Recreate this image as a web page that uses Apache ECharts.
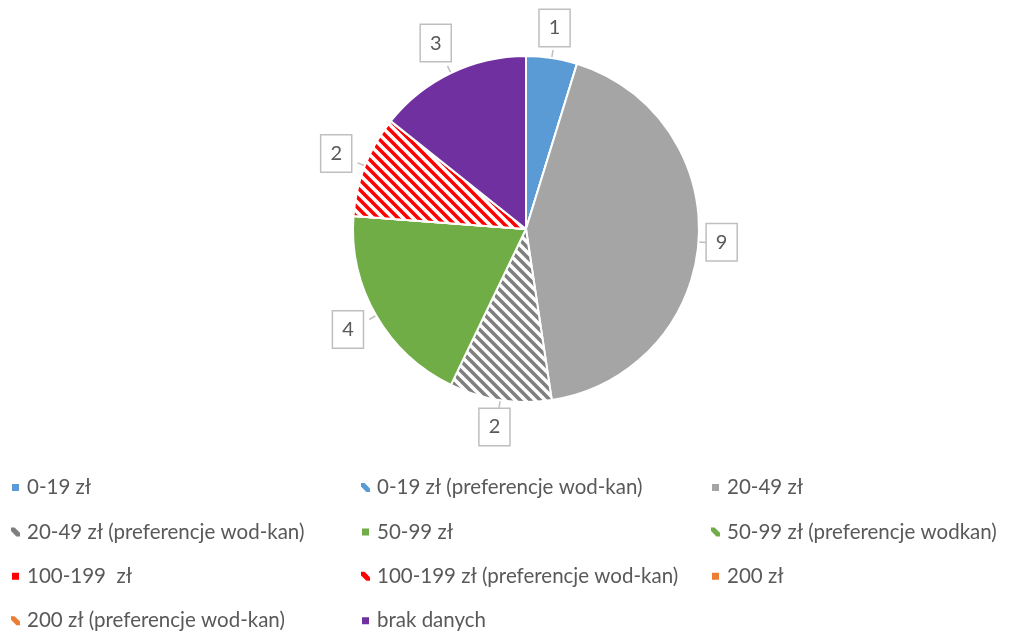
<!DOCTYPE html>
<html><head><meta charset="utf-8">
<script src="https://cdn.jsdelivr.net/npm/echarts@6/dist/echarts.min.js"></script>
<style>html,body{margin:0;padding:0;background:#fff}#c{width:1024px;height:632px}</style>
</head><body><div id="c"></div>
<script>
const categories = ['0-19 zł','0-19 zł (preferencje wod-kan)','20-49 zł','20-49 zł (preferencje wod-kan)','50-99 zł','50-99 zł (preferencje wodkan)','100-199  zł','100-199 zł (preferencje wod-kan)','200 zł','200 zł (preferencje wod-kan)','brak danych'];
const values = [1,0,9,2,4,0,0,2,0,0,3];
const hatched = [false,true,false,true,false,true,false,true,false,true,false];
const baseColors = ['#5b9bd5','#5b9bd5','#a5a5a5','#7f7f7f','#70ad47','#70ad47','#ff0000','#ff0000','#ed7d31','#ed7d31','#7030a0'];
const legendCols = [[0,3,6,9],[1,4,7,10],[2,5,8]];

function makePattern(color){
  const s = 10;
  const c = document.createElement('canvas');
  c.width = s; c.height = s;
  const g = c.getContext('2d');
  g.fillStyle = '#fff'; g.fillRect(0,0,s,s);
  g.strokeStyle = color; g.lineWidth = 3.6; g.lineCap = 'square';
  g.beginPath();
  g.moveTo(-s,-s); g.lineTo(2*s,2*s);
  g.moveTo(0,-s); g.lineTo(2*s,s);
  g.moveTo(-s,0); g.lineTo(s,2*s);
  g.stroke();
  return {image: c, repeat: 'repeat'};
}

const dashIcon = 'path://M0,0 L4,0 L10,6 L10,10 L6,10 L0,4 Z';
const txt = '#595959';
const font = 'Lato, Carlito, "Liberation Sans", sans-serif';

const data = categories.map((n,i)=>({
  name: n, value: values[i],
  itemStyle: {color: hatched[i] ? makePattern(baseColors[i]) : baseColors[i]},
  label: {show: values[i] > 0},
  labelLine: {show: values[i] > 0}
}));

const legends = legendCols.map((col,k)=>({
  orient: 'vertical',
  left: [10, 360, 710][k],
  top: 477,
  padding: 0,
  itemWidth: 9, itemHeight: 9,
  itemGap: 23.4,
  selectedMode: false,
  textStyle: {color: txt, fontSize: 20.5, fontFamily: font, lineHeight: 21, padding: [0,0,0,2]},
  data: col.map(i=>hatched[i]
    ? {name: categories[i], icon: dashIcon, itemStyle: {color: baseColors[i], borderWidth: 0, decal: 'none'}}
    : {name: categories[i], icon: 'rect', itemStyle: {color: baseColors[i]}})
}));

function placeLabel(params){
  const pts = params.labelLinePoints;
  if (!pts) return {};
  const p0 = pts[0], p1 = pts[1];
  let ux = p1[0]-p0[0], uy = p1[1]-p0[1];
  const n = Math.hypot(ux,uy) || 1; ux/=n; uy/=n;
  const w = params.labelRect.width, h = params.labelRect.height;
  const gap = 7;
  const t = gap + 0.5*(Math.abs(ux)*w + Math.abs(uy)*h);
  const cx = p0[0] + ux*t, cy = p0[1] + uy*t;
  return {
    x: cx - w/2, y: cy - h/2, align: 'left', verticalAlign: 'top',
    labelLinePoints: [[p0[0],p0[1]],[p0[0]+ux*(gap+1),p0[1]+uy*(gap+1)],[p0[0]+ux*(gap+1),p0[1]+uy*(gap+1)]]
  };
}

const chart = echarts.init(document.getElementById('c'));
chart.setOption({
  animation: false,
  backgroundColor: '#fff',
  legend: legends,
  series: [{
    type: 'pie',
    center: [526, 229],
    radius: 173,
    startAngle: 90,
    clockwise: true,
    avoidLabelOverlap: false,
    itemStyle: {borderColor: '#fff', borderWidth: 2},
    label: {
      position: 'outside',
      formatter: '{c}',
      color: txt, fontSize: 20, fontFamily: font,
      backgroundColor: '#fff', borderColor: '#bfbfbf', borderWidth: 1.5,
      padding: [8, 9, 8, 9]
    },
    labelLine: {length: 10, length2: 0, lineStyle: {color: '#bfbfbf', width: 1.5}},
    labelLayout: placeLabel,
    emphasis: {disabled: true},
    data: data
  }]
});
</script></body></html>
